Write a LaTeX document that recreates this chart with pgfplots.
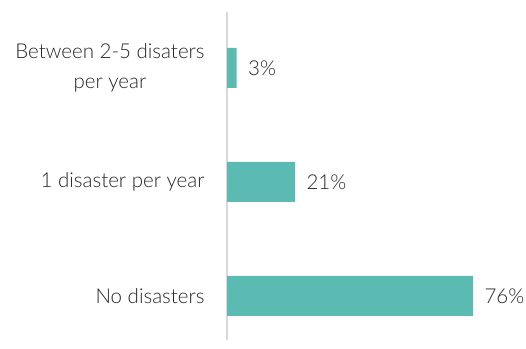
\documentclass[border=0pt]{standalone}
\usepackage{pgfplots}
\pgfplotsset{compat=1.18}
\usepackage{fontspec}
\setmainfont{Lato Light}
\definecolor{barteal}{HTML}{5BBAB2}
\definecolor{axgray}{HTML}{D9D9D9}
\definecolor{txt}{HTML}{262626}
\begin{document}
\begin{tikzpicture}[x=1pt,y=1pt]
\path[use as bounding box] (0,0) rectangle (526,348);
\begin{axis}[
  at={(227pt,8pt)}, anchor=south west,
  scale only axis, width=246pt, height=328pt,
  xbar, bar width=40pt, bar shift=0pt,
  xmin=0, xmax=76,
  ymin=-0.386, ymax=2.491,
  axis x line=none,
  axis y line*=left,
  y axis line style={draw=axgray, line width=1.5pt, -},
  ytick={0,1,2},
  yticklabels={No disasters, 1 disaster per year, {Between 2-5 disaters\\per year}},
  yticklabel style={align=center, font=\fontsize{20.5}{30}\selectfont, text=txt, xshift=-19pt},
  major tick length=0pt,
  clip=false,
  /pgf/number format/assume math mode=true,
  nodes near coords={\pgfmathprintnumber{\pgfplotspointmeta}\%},
  nodes near coords style={anchor=west, font=\fontsize{20.5}{24}\selectfont, text=txt, xshift=8pt},
  point meta=x,
]
\addplot[fill=barteal, draw=none] coordinates {(76,0) (21,1) (3,2)};
\end{axis}
\end{tikzpicture}
\end{document}
